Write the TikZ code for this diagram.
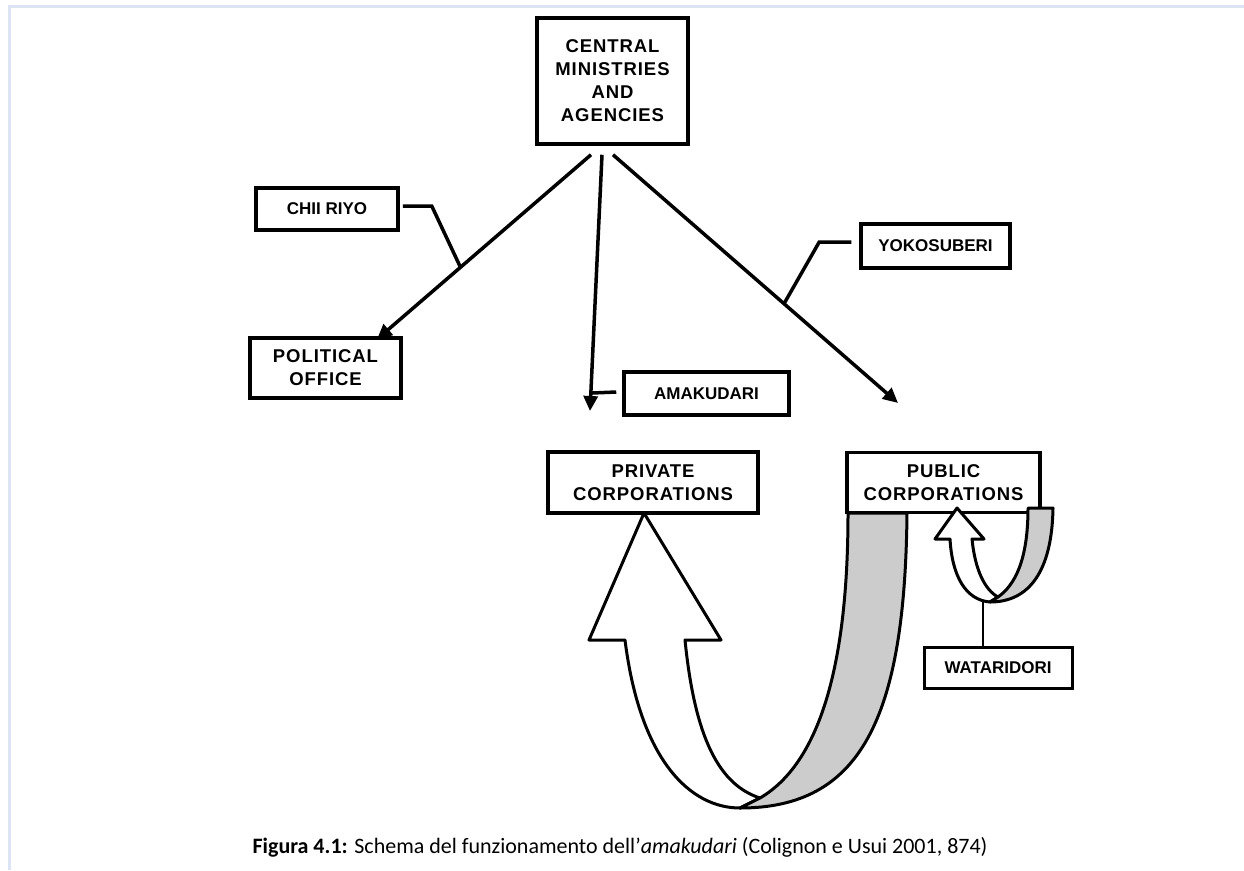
\documentclass[tikz,border=0pt]{standalone}
\usepackage{fontspec}
\setmainfont{Carlito}
\newfontfamily\labfont[LetterSpace=5]{Liberation Sans}
\newfontfamily\labsmall{Liberation Sans}
\usetikzlibrary{arrows.meta,calc}
\definecolor{frameblue}{RGB}{220,228,243}
\definecolor{ribbongray}{RGB}{204,204,204}
\begin{document}
\begin{tikzpicture}[x=1pt,y=-1pt,
  bigbox/.style={draw,line width=3.5pt,inner sep=0pt,align=center,font=\labfont\bfseries\fontsize{18.5}{23}\selectfont},
  tagbox/.style={draw,line width=3.5pt,inner sep=0pt,align=center,font=\labsmall\bfseries\fontsize{17}{20}\selectfont},
  conn/.style={line width=3.5pt,-{Triangle[length=15pt,width=14pt]}},
  leader/.style={line width=3.5pt},
  ribbon/.style={draw,line width=3pt,line join=round}]
\useasboundingbox (0,0) rectangle (1244,870);
\draw[frameblue,line width=3pt] (8,6) -- (1244,6);
\draw[frameblue,line width=3pt] (9,6) -- (9,870);

% boxes
\node[bigbox,minimum width=151pt,minimum height=126pt] (cen) at (612.5,81) {CENTRAL\\MINISTRIES\\AND\\AGENCIES};
\node[tagbox,minimum width=142pt,minimum height=42pt] (chii) at (327,209) {CHII RIYO};
\node[bigbox,minimum width=151pt,minimum height=60pt] (pol) at (325.5,368) {POLITICAL\\OFFICE};
\node[tagbox,minimum width=165pt,minimum height=43pt] (ama) at (706.5,393.5) {AMAKUDARI};
\node[tagbox,minimum width=149pt,minimum height=44pt] (yoko) at (935.5,246) {YOKOSUBERI};
\node[bigbox,minimum width=210pt,minimum height=61pt] (priv) at (653,482.5) {PRIVATE\\CORPORATIONS};
\node[bigbox,minimum width=193pt,minimum height=60pt] (pub) at (943.5,482.5) {PUBLIC\\CORPORATIONS};
\node[tagbox,line width=3pt,minimum width=148pt,minimum height=41pt] (wata) at (998,667.5) {WATARIDORI};

% arrows from central
\coordinate (s1) at ($(cen.south)+(-21.5,9)$);
\coordinate (s2) at ($(cen.south)+(-10.5,9)$);
\coordinate (s3) at ($(cen.south)+(0.5,9)$);
\coordinate (t2) at (590,411);
\coordinate (t3) at (898,403);
\draw[conn] (s1) -- ($(pol.north)+(51.5,3)$);
\draw[conn] (s2) -- (t2);
\draw[conn] (s3) -- (t3);

% leaders
\coordinate (l1) at ($(s1)!0.61!($(pol.north)+(51.5,3)$)$);
\draw[leader] ($(chii.east)+(3,-3)$) -- ++(29,0) -- (l1);
\coordinate (l2) at ($(s2)!0.93!(t2)$);
\draw[leader] ($(ama.west)+(-6,-1.5)$) -- (l2);
\coordinate (l3) at ($(s3)!0.6!(t3)$);
\draw[leader] ($(yoko.west)+(-8,-4)$) -- ++(-32,0) -- (l3);

% big twisted arrow
\path[ribbon,fill=white] (644,513) -- (721,640) -- (685,640)
  .. controls (695,740) and (720,785) .. (760,798) -- (740,808)
  .. controls (690,808) and (640,760) .. (625,640) -- (589,640) -- cycle;
\path[ribbon,fill=ribbongray] (760,798) -- (740,808)
  .. controls (860,808) and (905,720) .. (907,513) -- (848,513)
  .. controls (848,650) and (825,760) .. (760,798) -- cycle;

% small twisted arrow
\path[ribbon,fill=white] (957,508) -- (984,539) -- (972,539)
  .. controls (975,570) and (985,590) .. (998,597) -- (990,602)
  .. controls (965,600) and (952,575) .. (950,539) -- (935,539) -- cycle;
\path[ribbon,fill=ribbongray] (998,597) -- (990,602)
  .. controls (1030,602) and (1052,570) .. (1053,508) -- (1028,508)
  .. controls (1028,560) and (1015,585) .. (998,597) -- cycle;
\coordinate (wl) at (983,602);
\draw[line width=2.5pt] (wl) -- (wata.north -| wl);

% caption
\node[font=\fontsize{22}{26}\selectfont,anchor=base] (cap) at (620,853)
  {\textbf{Figura 4.1:} Schema del funzionamento dell'\textit{amakudari} (Colignon e Usui 2001, 874)};
\end{tikzpicture}
\end{document}
